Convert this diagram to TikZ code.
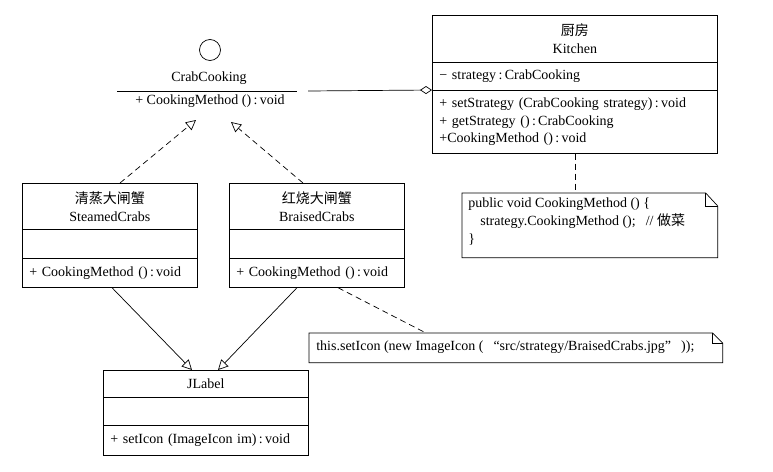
\documentclass[tikz,border=0pt]{standalone}
\usepackage{fontspec}
\setmainfont{Liberation Serif}
\newfontfamily\cjk{Noto Sans CJK SC}
\usetikzlibrary{arrows.meta}
\newcommand{\cl}{\thinspace:\thinspace}
\begin{document}
\begin{tikzpicture}[x=1pt,y=-1pt,
  font=\fontsize{14}{18}\selectfont,
  every path/.style={line width=0.7pt},
  part/.style={draw, anchor=north west, inner xsep=7pt, inner ysep=0pt, align=left},
  title/.style={draw, anchor=north west, inner sep=0pt, align=center},
  notebox/.style={anchor=north west, inner sep=0pt},
  notetext/.style={anchor=west, align=left, inner sep=0pt, font=\fontsize{14}{18}\selectfont},
  dashline/.style={dash pattern=on 6pt off 4pt},
  realize/.style={dashline, -{Triangle[open, length=10pt, width=10pt]}},
  general/.style={-{Triangle[open, length=10pt, width=10pt]}},
  aggreg/.style={-{Diamond[open, length=12pt, width=8pt]}}
]
\useasboundingbox (0,0) rectangle (773,471);

% Interface CrabCooking
\node[draw, circle, minimum size=21pt, inner sep=0pt] (cc0) at (210,50) {};
\node (ccn) at (209,78) {CrabCooking};
\node (ccm) at (210,101) {+ CookingMethod ()\cl void};
\coordinate (ccL) at (117,91);
\coordinate (ccR) at (297,91);
\draw (ccL) -- (ccR);
\coordinate (ccA) at (196,120);
\coordinate (ccB) at (231,122);
\coordinate (ccS) at (308,91);

% Kitchen
\node[title, minimum width=285pt, minimum height=47pt] (kt) at (432,15) {{\cjk 厨房}\\Kitchen};
\node[part, minimum width=285pt, minimum height=28pt, text width=271pt] (ka) at (432,62) {− strategy\cl CrabCooking};
\node[part, minimum width=285pt, minimum height=63pt, text width=271pt, font=\fontsize{14}{17.5}\selectfont] (km) at (432,90) {+ setStrategy (CrabCooking strategy)\cl void\\+ getStrategy ()\cl CrabCooking\\+CookingMethod ()\cl void};

% Note 1
\node[notebox, minimum width=255pt, minimum height=64pt] (n1) at (462,193) {};
\draw (n1.north west) -- ([xshift=-12pt]n1.north east) -- ([yshift=-13pt]n1.north east) -- (n1.south east) -- (n1.south west) -- cycle;
\draw ([xshift=-12pt]n1.north east) |- ([yshift=-13pt]n1.north east);
\node[notetext] (n1t) at (468,222) {public void CookingMethod () \{\\\hspace*{12pt}strategy.CookingMethod ();\hspace{10pt}// {\cjk 做菜}\\\}};

% SteamedCrabs
\node[title, minimum width=175pt, minimum height=46pt] (st) at (22,183) {{\cjk 清蒸大闸蟹}\\SteamedCrabs};
\node[part, minimum width=175pt, minimum height=29pt] (sa) at (22,229) {};
\node[part, minimum width=175pt, minimum height=29pt, text width=161pt] (sm) at (22,258) {+ CookingMethod ()\cl void};

% BraisedCrabs
\node[title, minimum width=175pt, minimum height=46pt] (bt) at (229,183) {{\cjk 红烧大闸蟹}\\BraisedCrabs};
\node[part, minimum width=175pt, minimum height=29pt] (ba) at (229,229) {};
\node[part, minimum width=175pt, minimum height=29pt, text width=161pt] (bm) at (229,258) {+ CookingMethod ()\cl void};

% JLabel
\node[title, minimum width=205pt, minimum height=27pt] (jt) at (103,370) {JLabel};
\node[part, minimum width=205pt, minimum height=28pt] (ja) at (103,397) {};
\node[part, minimum width=205pt, minimum height=30pt, text width=191pt] (jm) at (103,425) {+ setIcon (ImageIcon im)\cl void};

% Note 2
\node[notebox, minimum width=413pt, minimum height=29pt] (n2) at (309,333) {};
\draw (n2.north west) -- ([xshift=-10pt]n2.north east) -- ([yshift=-10pt]n2.north east) -- (n2.south east) -- (n2.south west) -- cycle;
\draw ([xshift=-10pt]n2.north east) |- ([yshift=-10pt]n2.north east);
\node[notetext] (n2t) at (316,347.5) {this.setIcon (new ImageIcon (\hspace{10pt}“src/strategy/BraisedCrabs.jpg”\hspace{10pt}));};

% Connectors
\draw[aggreg] (ccS) -- (km.north west);
\draw[dashline] (km.south) -- (km.south |- n1.north);
\draw[realize] ([xshift=98pt]st.north west) -- (ccA);
\draw[realize] ([xshift=74pt]bt.north west) -- (ccB);
\draw[general] ([xshift=90pt]sm.south west) -- ([xshift=89pt]jt.north west);
\draw[general] ([xshift=68pt]bm.south west) -- ([xshift=115pt]jt.north west);
\draw[dashline] ([xshift=109pt]bm.south west) -- ([xshift=117pt]n2.north west);
\end{tikzpicture}
\end{document}
